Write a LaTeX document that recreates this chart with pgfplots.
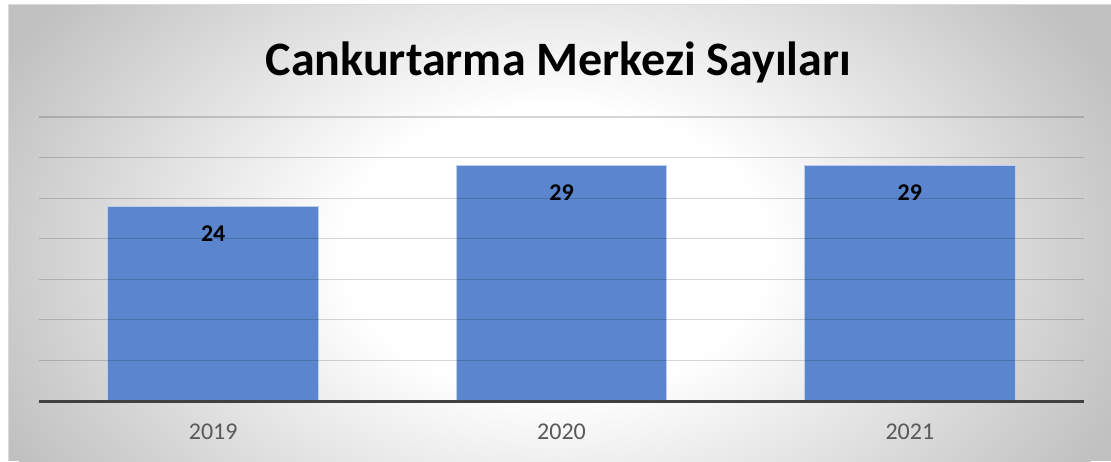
\documentclass[border=0pt]{standalone}
\usepackage{fontspec}
\setmainfont{Carlito}
\usepackage{pgfplots}
\pgfplotsset{compat=1.18}
\definecolor{barblue}{RGB}{91,134,205}
\definecolor{bgout}{RGB}{192,192,192}
\definecolor{ticktext}{RGB}{89,89,89}
\definecolor{axisdark}{RGB}{64,64,64}
\pgfdeclareradialshading{bgshade}{\pgfpoint{0bp}{0bp}}{color(0bp)=(white); color(8.5bp)=(white); color(25bp)=(bgout); color(50bp)=(bgout)}
\begin{document}
\begin{tikzpicture}
\useasboundingbox (0,0) rectangle (833.25pt,345.75pt);
\fill[white] (0,0) rectangle (833.25pt,345.75pt);
\begin{scope}
\clip (6pt,0pt) rectangle (833.25pt,342pt);
\fill[bgout] (6pt,0pt) rectangle (833.25pt,342pt);
\shade[shading=bgshade] (416.25pt,158.25pt) ellipse (465pt and 315pt);
\end{scope}
\draw[black!15, line width=0.75pt] (6pt,0pt) -- (6pt,342pt) -- (833.25pt,342pt);
\node[font=\bfseries\fontsize{36}{40}\selectfont, anchor=base, inner sep=0pt] at (418.9pt,289.3pt) {Cankurtarma Merkezi Sayıları};
\begin{axis}[
  at={(29.25pt,45pt)}, anchor=south west,
  scale only axis, width=783.75pt, height=213pt,
  xmin=-0.5, xmax=2.5, ymin=0, ymax=35,
  ybar, bar width=158pt,
  axis on top,
  axis x line*=bottom, axis y line*=left,
  x axis line style={draw=axisdark, line width=2.25pt, -},
  y axis line style={draw=none},
  ytick={5,10,...,35}, yticklabels={},
  ymajorgrids,
  major grid style={draw=black, opacity=0.16, line width=0.9pt},
  xtick={0,1,2}, xticklabels={2019,2020,2021},
  major tick length=0pt,
  xticklabel style={font=\fontsize{18}{20}\selectfont, text=ticktext, anchor=center, yshift=-23.25pt},
  /pgf/number format/assume math mode=true,
  nodes near coords,
  every node near coord/.append style={font=\bfseries\fontsize{18}{20}\selectfont, anchor=north, inner sep=0pt, yshift=-14.25pt, text=black},
]
\addplot[fill=barblue, draw=white!60!barblue, line width=0.75pt] coordinates {(0,24) (1,29) (2,29)};
\end{axis}
\end{tikzpicture}
\end{document}
